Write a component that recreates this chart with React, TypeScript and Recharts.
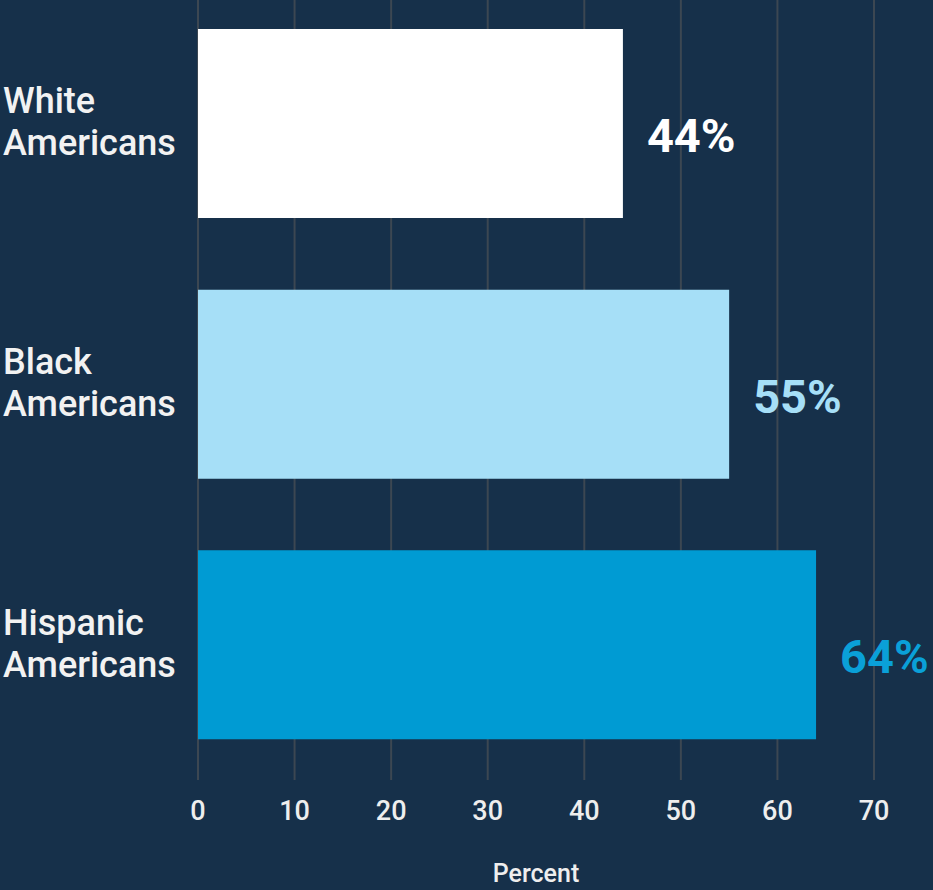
import { BarChart, Bar, XAxis, YAxis, CartesianGrid, Cell, LabelList } from "recharts";

const groups = ["White Americans", "Black Americans", "Hispanic Americans"];
const shares = [44, 55, 64];
const xTicks = [0, 10, 20, 30, 40, 50, 60, 70];

const BG = "#16304a";
const GRID = "#3c4752";
const barColors = ["#ffffff", "#a6dff7", "#009bd3"];
const labelColors = ["#ffffff", "#a6dff7", "#0aa0d8"];

const data = groups.map((g, i) => ({ group: g, share: shares[i] }));

function GroupTick(props: any) {
  const { y, payload } = props;
  const words = String(payload.value).split(" ");
  return (
    <text x={3} y={y} fill="#f2f2f2" fontSize={36} fontWeight={500} fontFamily="Roboto, 'Liberation Sans', sans-serif" textAnchor="start">
      <tspan x={3} dy={-10}>{words[0]}</tspan>
      <tspan x={3} dy={42}>{words.slice(1).join(" ")}</tspan>
    </text>
  );
}

function ShareLabel(props: any) {
  const { x, y, width, height, value, index } = props;
  return (
    <text
      x={x + width + 24}
      y={y + height / 2 + 12}
      fill={labelColors[index]}
      fontSize={47}
      fontWeight={700}
      fontFamily="Roboto, 'Liberation Sans', sans-serif"
      dominantBaseline="central"
    >
      {value}%
    </text>
  );
}

export default function App() {
  return (
    <div style={{ position: "absolute", left: 0, top: 0, width: 933, height: 890, background: BG, overflow: "hidden" }}>
      <BarChart
        width={933}
        height={890}
        data={data}
        layout="vertical"
        margin={{ top: -7, right: 59, left: 0, bottom: 0 }}
      >
        <CartesianGrid vertical horizontal={false} stroke={GRID} strokeWidth={2} />
        <XAxis
          type="number"
          domain={[0, 70]}
          ticks={xTicks}
          interval={0}
          height={115}
          axisLine={false}
          tickSize={5}
          tickLine={{ stroke: GRID, strokeWidth: 2 }}
          tickMargin={21}
          tick={{ fill: "#eeeeee", fontSize: 27, fontWeight: 500, fontFamily: "Roboto, 'Liberation Sans', sans-serif" }}
          label={{
            value: "Percent",
            position: "insideBottom",
            offset: 8,
            fill: "#eeeeee",
            fontSize: 25,
            fontWeight: 500,
            fontFamily: "Roboto, 'Liberation Sans', sans-serif",
          }}
        />
        <YAxis type="category" dataKey="group" width={198} axisLine={false} tickLine={false} tick={<GroupTick />} />
        <Bar dataKey="share" barSize={189} isAnimationActive={false}>
          {data.map((d, i) => (
            <Cell key={d.group} fill={barColors[i]} />
          ))}
          <LabelList dataKey="share" content={<ShareLabel />} />
        </Bar>
      </BarChart>
    </div>
  );
}
